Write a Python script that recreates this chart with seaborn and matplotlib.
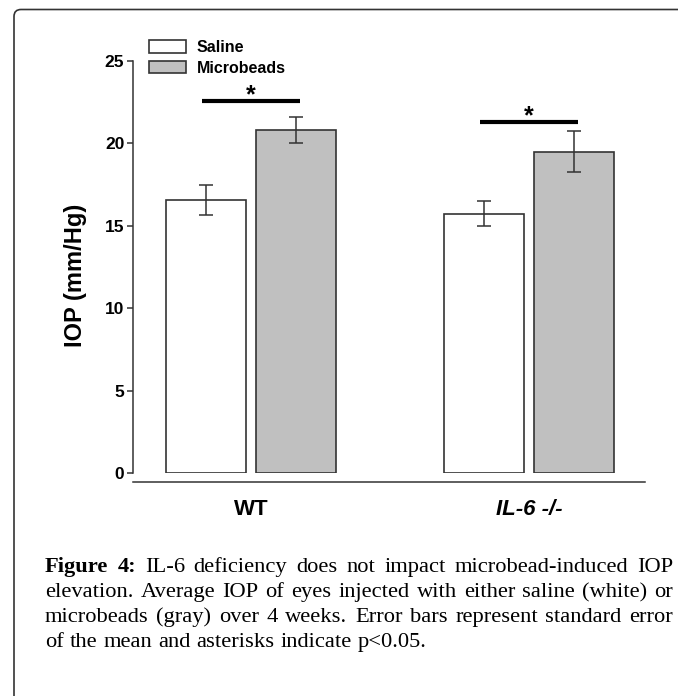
import pandas as pd
import matplotlib.pyplot as plt
import seaborn as sns
from matplotlib.patches import FancyBboxPatch
from matplotlib.transforms import IdentityTransform

# Data (mean IOP and SEM)
genotypes = ["WT", "WT", "IL-6 -/-", "IL-6 -/-"]
treatments = ["Saline", "Microbeads", "Saline", "Microbeads"]
iop_mean = [16.55, 20.81, 15.72, 19.50]
iop_sem = [0.92, 0.81, 0.76, 1.23]
sig_groups = ["WT", "IL-6 -/-"]
sig_heights = [22.57, 21.28]

caption_lines = [
    "Figure 4: IL-6 deficiency does not impact microbead-induced IOP",
    "elevation. Average IOP of eyes injected with either saline (white) or",
    "microbeads (gray) over 4 weeks. Error bars represent standard error",
    "of the mean and asterisks indicate p<0.05.",
]

df = pd.DataFrame({"Genotype": genotypes, "Treatment": treatments,
                   "IOP": iop_mean, "SEM": iop_sem})

sns.set_style("ticks")
plt.rcParams["font.family"] = ["Liberation Sans", "DejaVu Sans"]
plt.rcParams["text.color"] = "black"
plt.rcParams["axes.labelcolor"] = "black"
plt.rcParams["xtick.color"] = "black"
plt.rcParams["ytick.color"] = "black"

W, H = 678, 696
fig = plt.figure(figsize=(W / 100, H / 100), dpi=100)

# axes placed in pixel terms
x0, x1 = 133, 645
y_top, y_zero = 61, 473
ax = fig.add_axes([x0 / W, 1 - y_zero / H, (x1 - x0) / W, (y_zero - y_top) / H])

edge = "#333333"
sns.barplot(data=df, x="Genotype", y="IOP", hue="Treatment",
            hue_order=["Saline", "Microbeads"],
            palette={"Saline": "white", "Microbeads": "#c0c0c0"},
            edgecolor=edge, linewidth=1.2, width=0.647, gap=0.105,
            errorbar=None, ax=ax)

# error bars on each bar
for cont, treat in zip(ax.containers, ["Saline", "Microbeads"]):
    sub = df[df["Treatment"] == treat]
    for bar, (_, row) in zip(cont, sub.iterrows()):
        cx = bar.get_x() + bar.get_width() / 2
        ax.errorbar(cx, row["IOP"], yerr=row["SEM"], fmt="none",
                    ecolor=edge, elinewidth=1.1, capsize=4.7, capthick=1.1)

# significance bars
cats = [t.get_text() for t in ax.get_xticklabels()]
for g, h in zip(sig_groups, sig_heights):
    c = cats.index(g)
    ax.plot([c - 0.177, c + 0.177], [h, h], color="black", lw=3, solid_capstyle="butt")
    ax.text(c, h - 0.35, "*", ha="center", va="bottom", fontsize=18,
            fontweight="bold", color="black")

ax.set_xlim(-0.4245, 1.417)
ax.set_ylim(0, 25)
ax.set_yticks([0, 5, 10, 15, 20, 25])
sns.despine(ax=ax, offset={"bottom": 6.5, "left": 0})
ax.spines["left"].set_color(edge)
ax.spines["bottom"].set_color(edge)
ax.spines["left"].set_linewidth(1.1)
ax.spines["bottom"].set_linewidth(1.1)
ax.tick_params(axis="y", length=4.3, width=1.1, color=edge, labelcolor="black",
               pad=2, labelsize=12.5)
ax.tick_params(axis="x", length=0, pad=12, labelsize=16, labelcolor="black")
for t in ax.get_yticklabels() + ax.get_xticklabels():
    t.set_fontweight("bold")
ax.get_xticklabels()[1].set_style("italic")

ax.set_xlabel("")
ax.set_ylabel("IOP (mm/Hg)", fontsize=17, fontweight="bold", color="black")
ax.yaxis.set_label_coords(-0.09, 0.48)

handles, labels = ax.get_legend_handles_labels()
leg = ax.legend(handles, labels, loc="upper left",
                bbox_to_anchor=(149 / W, 1 - 40 / H), bbox_transform=fig.transFigure,
                frameon=False, borderpad=0, borderaxespad=0,
                handlelength=2.3, handleheight=0.8, handletextpad=0.7,
                labelspacing=0.35, prop={"weight": "bold", "size": 11.5})
for t in leg.get_texts():
    t.set_color("black")

# caption, justified word by word
renderer = fig.canvas.get_renderer()
left_px, right_px = 45, 673
baselines = [572, 597, 622, 647]
for i, line in enumerate(caption_lines):
    words = line.split(" ")
    texts = []
    for j, w in enumerate(words):
        bold = (i == 0 and j < 2)
        t = fig.text(0, 0, w, fontsize=16.2, family="Liberation Serif",
                     fontweight="bold" if bold else "normal",
                     va="baseline", ha="left", color="black")
        texts.append(t)
    widths = [t.get_window_extent(renderer).width for t in texts]
    if i < len(caption_lines) - 1:
        space = (right_px - left_px - sum(widths)) / (len(words) - 1)
    else:
        space = 6.0
    x = left_px
    for t, wd in zip(texts, widths):
        t.set_position((x / W, 1 - baselines[i] / H))
        x += wd + space

# page frame with rounded corner
frame = FancyBboxPatch((14, -30), 700, H - 9.5 + 30,
                       boxstyle="round,pad=0,rounding_size=7",
                       transform=IdentityTransform(), fill=False,
                       edgecolor="#333333", linewidth=1.2)
fig.add_artist(frame)

fig.savefig("out.png", dpi=100)
